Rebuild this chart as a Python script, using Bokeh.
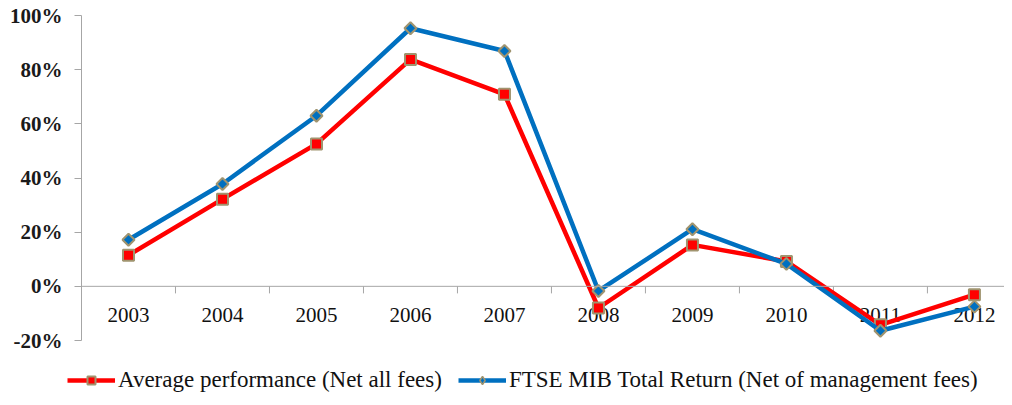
import math
from bokeh.plotting import figure
from bokeh.layouts import column
from bokeh.models import Range1d, Span, Legend, LegendItem, PrintfTickFormatter, FixedTicker, ColumnDataSource
from bokeh.core.properties import value
from bokeh.embed import file_html
from bokeh.resources import INLINE

years = ["2003", "2004", "2005", "2006", "2007", "2008", "2009", "2010", "2011", "2012"]
avg_perf = [11.5, 32.2, 52.6, 83.8, 70.9, -8.0, 15.3, 9.2, -14.2, -3.1]
ftse_mib = [17.2, 37.8, 63.0, 95.3, 86.9, -1.7, 21.1, 8.3, -16.4, -7.5]
y_ticks = [-20, 0, 20, 40, 60, 80, 100]
series_names = ["Average performance (Net all fees)", "FTSE MIB Total Return (Net of management fees)"]

FONT = "Liberation Serif"
AXIS_GRAY = "#A6A6A6"
RED = "#FF0000"
BLUE = "#0070C0"
EDGE = "#A0946F"

n = len(years)
xc = [i + 0.5 for i in range(n)]

p = figure(width=1004, height=352, output_backend="svg", toolbar_location=None,
           x_range=Range1d(0, 9.82), y_range=Range1d(-20, 100),
           x_axis_location=None, min_border_left=81, min_border_right=0,
           min_border_top=15, min_border_bottom=12)
p.outline_line_color = None
p.grid.visible = False
p.background_fill_color = "white"
p.border_fill_color = "white"

ya = p.yaxis[0]
ya.ticker = FixedTicker(ticks=y_ticks)
ya.formatter = PrintfTickFormatter(format="%d%%")
ya.axis_line_color = AXIS_GRAY
ya.major_tick_line_color = AXIS_GRAY
ya.major_tick_out = 7
ya.major_tick_in = 0
ya.minor_tick_line_color = None
ya.major_label_standoff = 12
ya.major_label_text_font = FONT
ya.major_label_text_font_style = "bold"
ya.major_label_text_font_size = "21px"
ya.major_label_text_color = "#1a1a1a"

# category axis crossing at 0
p.add_layout(Span(location=0, dimension="width", line_color=AXIS_GRAY, line_width=1))
bounds = list(range(n + 1))
p.segment(x0=bounds, x1=bounds, y0=[0] * len(bounds), y1=[-2.6] * len(bounds),
          line_color=AXIS_GRAY, line_width=1)
p.text(x=xc, y=[0] * n, text=years, y_offset=29, text_align="center", text_baseline="middle",
       text_font=value(FONT), text_font_size="21px", text_color="#111111")

src = ColumnDataSource(dict(x=xc, a=avg_perf, b=ftse_mib))
line_a = dict(line_color=RED, line_width=4.5)
mark_a = dict(marker="square", size=11, fill_color=RED, line_color=EDGE, line_width=2)
line_b = dict(line_color=BLUE, line_width=4.5)
mark_b = dict(marker="square", angle=math.pi / 4, size=8.5, fill_color=BLUE, line_color=EDGE, line_width=2)
p.line("x", "a", source=src, **line_a)
p.scatter("x", "a", source=src, **mark_a)
p.line("x", "b", source=src, **line_b)
p.scatter("x", "b", source=src, **mark_b)

# legend strip below the chart (series drawn out of view; only the legend shows)
lg = figure(width=1004, height=45, output_backend="svg", toolbar_location=None,
            x_range=Range1d(0, 1), y_range=Range1d(1000, 1001),
            x_axis_location=None, y_axis_location=None,
            min_border_left=0, min_border_right=0, min_border_top=0, min_border_bottom=0)
lg.outline_line_color = None
lg.grid.visible = False
lg.border_fill_color = "white"
aligned_off = "frame_align" in lg.properties()
if aligned_off:
    lg.frame_align = False
r1 = lg.line("x", "a", source=src, **line_a)
r2 = lg.scatter("x", "a", source=src, **mark_a)
r3 = lg.line("x", "b", source=src, **line_b)
r4 = lg.scatter("x", "b", source=src, marker="diamond", size=12, fill_color=BLUE,
                line_color=EDGE, line_width=1.5)

legend = Legend(items=[LegendItem(label=series_names[0], renderers=[r1, r2]),
                       LegendItem(label=series_names[1], renderers=[r3, r4])],
                orientation="horizontal", location=(67 if aligned_off else -14, 4),
                label_text_font=FONT, label_text_font_size="23px", label_text_color="#111111",
                glyph_width=48, glyph_height=20, label_height=20, label_standoff=3,
                spacing=16, padding=0, margin=0,
                border_line_color=None, background_fill_alpha=0)
lg.add_layout(legend, "center")

layout = column(p, lg, spacing=0)
open("out.html", "w").write(file_html(layout, INLINE))
